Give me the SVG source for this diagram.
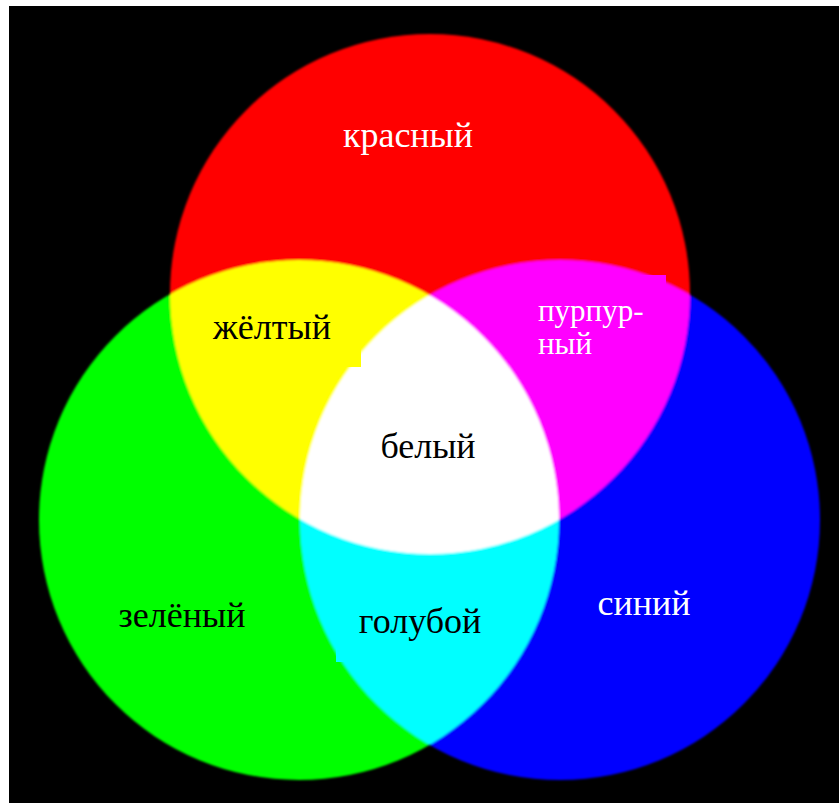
<svg xmlns="http://www.w3.org/2000/svg" width="839" height="803" viewBox="0 0 839 803">
  <defs>
    <filter id="soft" x="-5%" y="-5%" width="110%" height="110%">
      <feGaussianBlur stdDeviation="1.2"/>
    </filter>
  </defs>
  <style>
    .c { mix-blend-mode: screen; }
    text { font-family: "Liberation Serif", "Times New Roman", serif; font-size: 36px; }
    .w { fill: #ffffff; }
    .k { fill: #000000; }
    .m { text-anchor: middle; }
    .s { font-size: 31px; }
  </style>
  <rect x="0" y="0" width="839" height="803" fill="#ffffff"/>
  <rect x="9" y="6" width="830" height="797" fill="#000000"/>
  <g filter="url(#soft)">
    <g id="red"><circle class="c" cx="430" cy="294" r="260" fill="#ff0000"/></g>
    <g id="green"><circle class="c" cx="299" cy="520" r="260" fill="#00ff00"/></g>
    <g id="blue"><circle class="c" cx="560" cy="520" r="260" fill="#0000ff"/></g>
  </g>
  <g id="label-boxes">
    <rect x="230" y="300" width="131" height="67" fill="#ffff00"/>
    <rect x="530" y="275" width="136" height="85" fill="#ff00ff"/>
    <rect x="336" y="598" width="170" height="64" fill="#00ffff"/>
  </g>
  <g id="label-red"><text class="w m" x="408" y="147">красный</text></g>
  <g id="label-yellow"><text class="k m" x="272" y="339">жёлтый</text></g>
  <g id="label-magenta"><text class="w s" x="538" y="321">пурпур-</text><text class="w s" x="538" y="354">ный</text></g>
  <g id="label-white"><text class="k m" x="428" y="458">белый</text></g>
  <g id="label-green"><text class="k m" x="182" y="627">зелёный</text></g>
  <g id="label-cyan"><text class="k m" x="420" y="633">голубой</text></g>
  <g id="label-blue"><text class="w m" x="644" y="615">синий</text></g>
  <g id="connectors"/>
</svg>
